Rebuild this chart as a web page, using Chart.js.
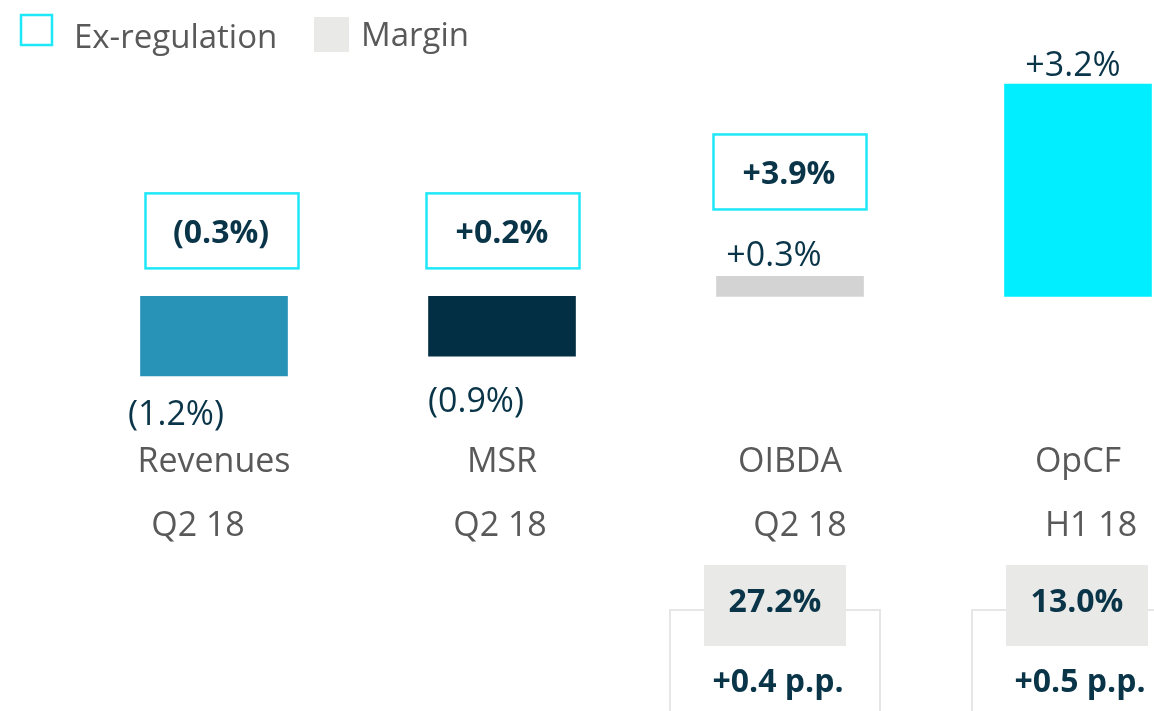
<!DOCTYPE html>
<html>
<head>
<meta charset="utf-8">
<script src="https://cdn.jsdelivr.net/npm/chart.js@4.4.1/dist/chart.umd.min.js"></script>
<style>
  html, body { margin: 0; padding: 0; background: #fff; overflow: hidden; }
  #wrap { position: relative; width: 1154px; height: 711px; }
</style>
</head>
<body>
<div id="wrap"><canvas id="chart"></canvas></div>
<script>
// ── data ──
const categories   = ['Revenues', 'MSR', 'OIBDA', 'OpCF'];
const periods      = ['Q2 18', 'Q2 18', 'Q2 18', 'H1 18'];
const growth       = [-1.2, -0.9, 0.3, 3.2];      // reported y/y %
const exRegulation = [-0.3, 0.2, 3.9, null];      // ex-regulation y/y %
const margins      = [null, null, 27.2, 13.0];    // margin %
const marginChange = [null, null, 0.4, 0.5];      // margin change, p.p.

const barColors = ['#2893B7', '#032F44', '#D3D3D3', '#00EEFF'];
const CYAN = '#1EE8F7';
const NAVY = '#0A3549';
const GREY = '#595959';
const FONT = '"Open Sans", sans-serif';

// small hand-tuned nudges so labels sit where the slide has them
const labelDx  = [-38, -26, -16, -5];
const labelDy  = [49, 56, -10, -8];     // baseline, from bar end
const boxDx    = [8, 1, 0];
const periodDx = [-16, -2, 10, 13];
const marginDx = [null, null, -15, -1];

const fmtPct = v => v < 0 ? `(${Math.abs(v).toFixed(1)}%)` : `+${v.toFixed(1)}%`;

// draws all the annotation text, boxes and the legend
const overlay = {
    id: 'overlay',
    afterDatasetsDraw(chart) {
        const ctx = chart.ctx;
        const zero = chart.scales.y.getPixelForValue(0);
        const bars = chart.getDatasetMeta(0).data;
        ctx.save();
        ctx.textBaseline = 'alphabetic';

        // legend
        ctx.strokeStyle = CYAN; ctx.lineWidth = 2.5;
        ctx.strokeRect(21, 15, 31, 30);
        ctx.fillStyle = '#E9E9E7';
        ctx.fillRect(314, 17, 35, 35);
        ctx.fillStyle = GREY;
        ctx.font = `33px ${FONT}`;
        ctx.textAlign = 'left';
        ctx.fillText('Ex-regulation', 74, 48);
        ctx.fillText('Margin', 361, 46);
        ctx.textAlign = 'center';

        bars.forEach((bar, i) => {
            const v = growth[i];
            const top = Math.min(bar.y, bar.base);
            const bottom = Math.max(bar.y, bar.base);

            // reported value label
            ctx.fillStyle = NAVY;
            ctx.font = `34px ${FONT}`;
            const ly = v < 0 ? bottom + labelDy[i] : top + labelDy[i];
            ctx.fillText(fmtPct(v), bar.x + labelDx[i], ly);

            // ex-regulation box
            if (exRegulation[i] !== null) {
                const bw = 153, bh = 75;
                const bx = bar.x + boxDx[i] - bw / 2;
                const by = (v < 0 ? zero - 28 : ly - 57) - bh;
                ctx.strokeStyle = CYAN; ctx.lineWidth = 2.5;
                ctx.strokeRect(bx, by, bw, bh);
                ctx.fillStyle = NAVY;
                ctx.font = `bold 32px ${FONT}`;
                ctx.fillText(fmtPct(exRegulation[i]), bx + bw / 2 - 1, by + 50);
            }

            // category + period
            ctx.fillStyle = GREY;
            ctx.font = `34px ${FONT}`;
            ctx.fillText(categories[i], bar.x, 472);
            ctx.fillText(periods[i], bar.x + periodDx[i], 536);

            // margin block
            if (margins[i] !== null) {
                const mx = bar.x + marginDx[i];
                ctx.strokeStyle = '#E6E6E6'; ctx.lineWidth = 2;
                ctx.beginPath();
                ctx.moveTo(mx - 105, 720); ctx.lineTo(mx - 105, 610); ctx.lineTo(mx + 105, 610); ctx.lineTo(mx + 105, 720);
                ctx.stroke();
                ctx.fillStyle = '#E9E9E7';
                ctx.fillRect(mx - 71, 565, 142, 81);
                ctx.fillStyle = NAVY;
                ctx.font = `bold 32px ${FONT}`;
                ctx.fillText(`${margins[i].toFixed(1)}%`, mx, 612);
                ctx.fillText(`+${marginChange[i].toFixed(1)} p.p.`, mx + 3, 692);
            }
        });
        ctx.restore();
    }
};

new Chart(document.getElementById('chart'), {
    type: 'bar',
    data: {
        labels: categories,
        datasets: [{ data: growth, backgroundColor: barColors, barThickness: 147, clip: false }]
    },
    options: {
        responsive: true, maintainAspectRatio: false, animation: false,
        layout: { padding: { left: 214, right: 76, top: 84, bottom: 335 } },
        plugins: { legend: { display: false }, tooltip: { enabled: false } },
        scales: {
            x: { display: false, offset: false },
            y: { display: false, min: -1.2, max: 3.2 }
        }
    },
    plugins: [overlay]
});
</script>
</body>
</html>
